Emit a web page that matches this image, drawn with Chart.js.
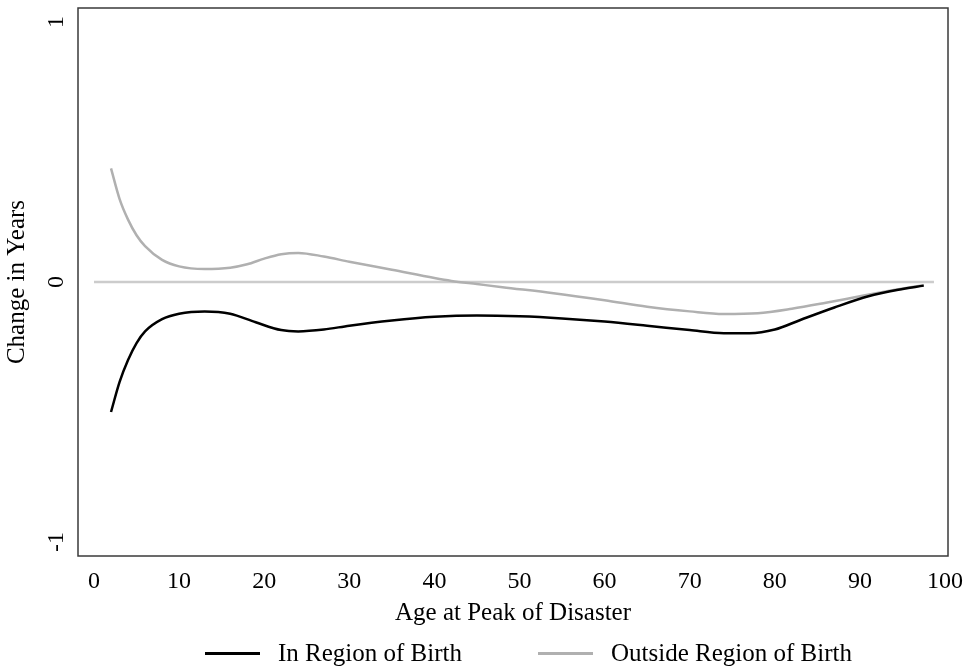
<!DOCTYPE html>
<html>
<head>
<meta charset="utf-8">
<script src="https://cdn.jsdelivr.net/npm/chart.js@4"></script>
<style>
  body { margin: 0; background: #fff; }
  #wrap { position: relative; width: 970px; height: 670px; }
  .item { position: absolute; top: 638px; height: 30px; display: flex; align-items: center;
          font: 25px "Liberation Serif", serif; color: #000; white-space: nowrap; }
  .item .swatch { width: 55px; height: 3px; margin-right: 18px; }
</style>
</head>
<body>
<div id="wrap">
  <canvas id="chart"></canvas>
</div>
<script>
// age at peak of disaster
const ages = [2, 3, 4, 5, 6, 8, 10, 13, 16, 19, 22, 24, 27, 30, 35, 40, 45, 50, 55, 60, 65, 70, 74, 77, 80, 83, 87, 91, 94.5, 97.5];
const inRegion = [-0.50, -0.385, -0.30, -0.235, -0.19, -0.143, -0.122, -0.113, -0.122, -0.155, -0.185, -0.19, -0.183, -0.168, -0.148, -0.134, -0.129, -0.132, -0.14, -0.152, -0.168, -0.185, -0.197, -0.197, -0.183, -0.146, -0.098, -0.055, -0.03, -0.014];

const agesOut = [2, 3, 4, 5, 6, 8, 10, 13, 16, 18, 20, 22, 24, 27, 30, 35, 40, 42, 45, 48, 54, 60, 65, 70, 74, 78, 82, 86, 90, 94, 97.5];
const outRegion = [0.437, 0.32, 0.24, 0.18, 0.138, 0.085, 0.06, 0.05, 0.055, 0.068, 0.09, 0.107, 0.112, 0.098, 0.078, 0.047, 0.015, 0.004, -0.008, -0.02, -0.043, -0.07, -0.095, -0.113, -0.123, -0.12, -0.103, -0.08, -0.055, -0.031, -0.012];

const zeroAges = [0, 98.7];
const zeroVals = [0, 0];

const xTicks = [0, 10, 20, 30, 40, 50, 60, 70, 80, 90, 100];
const yTicks = [-1, 0, 1];

const serif = '"Liberation Serif", "Times New Roman", serif';

function pts(xs, ys) {
  return xs.map((x, i) => ({ x, y: ys[i] }));
}

const frame = {
  id: 'frame',
  afterDatasetsDraw(chart) {
    const { ctx, chartArea: a } = chart;
    ctx.save();
    ctx.strokeStyle = '#3a3a3a';
    ctx.lineWidth = 1.5;
    ctx.strokeRect(a.left, a.top, a.right - a.left, a.bottom - a.top);
    ctx.restore();
  }
};

// rotated y tick labels, placed through the y scale
const yLabels = {
  id: 'yLabels',
  afterDraw(chart) {
    const { ctx } = chart;
    const y = chart.scales.y;
    ctx.save();
    ctx.font = '24px ' + serif;
    ctx.fillStyle = '#000';
    ctx.textAlign = 'center';
    ctx.textBaseline = 'middle';
    y.ticks.forEach(t => {
      ctx.save();
      ctx.translate(57, y.getPixelForValue(t.value));
      ctx.rotate(-Math.PI / 2);
      ctx.fillText(String(t.value), 0, 0);
      ctx.restore();
    });
    ctx.restore();
  }
};

const chart = new Chart(document.getElementById('chart'), {
  type: 'line',
  data: {
    datasets: [
      {
        label: 'In Region of Birth',
        data: pts(ages, inRegion),
        borderColor: '#000000',
        borderWidth: 2.5,
        pointRadius: 0,
        cubicInterpolationMode: 'monotone'
      },
      {
        label: 'Outside Region of Birth',
        data: pts(agesOut, outRegion),
        borderColor: '#b0b0b0',
        borderWidth: 2.5,
        pointRadius: 0,
        cubicInterpolationMode: 'monotone'
      },
      {
        label: 'zero',
        data: pts(zeroAges, zeroVals),
        borderColor: '#cccccc',
        borderWidth: 2.5,
        pointRadius: 0
      }
    ]
  },
  options: {
    animation: false,
    responsive: true,
    maintainAspectRatio: false,
    layout: { padding: { left: 2, top: 8, right: 22, bottom: 42 } },
    plugins: {
      legend: { display: false },
      tooltip: { enabled: false }
    },
    scales: {
      x: {
        type: 'linear',
        min: -1.88,
        max: 100.35,
        afterBuildTicks: s => { s.ticks = xTicks.map(v => ({ value: v })); },
        afterFit: s => { s.height = 72; },
        grid: { display: false },
        border: { display: false },
        ticks: {
          font: { family: serif, size: 24 },
          color: '#000',
          padding: 3,
          maxRotation: 0,
          autoSkip: false
        },
        title: {
          display: true,
          text: 'Age at Peak of Disaster',
          font: { family: serif, size: 25 },
          color: '#000',
          padding: 0
        }
      },
      y: {
        min: -1.054,
        max: 1.054,
        afterBuildTicks: s => { s.ticks = yTicks.map(v => ({ value: v })); },
        afterFit: s => { s.width = 76; },
        grid: { display: false },
        border: { display: false },
        ticks: { display: false },
        title: {
          display: true,
          text: 'Change in Years',
          font: { family: serif, size: 25 },
          color: '#000',
          padding: 0
        }
      }
    }
  },
  plugins: [frame, yLabels]
});

// legend below the axis title
const legendPos = [205, 538];
chart.data.datasets.slice(0, 2).forEach((ds, i) => {
  const item = document.createElement('div');
  item.className = 'item';
  item.style.left = legendPos[i] + 'px';
  const sw = document.createElement('span');
  sw.className = 'swatch';
  sw.style.background = ds.borderColor;
  const txt = document.createElement('span');
  txt.textContent = ds.label;
  item.appendChild(sw);
  item.appendChild(txt);
  document.getElementById('wrap').appendChild(item);
});
</script>
</body>
</html>
